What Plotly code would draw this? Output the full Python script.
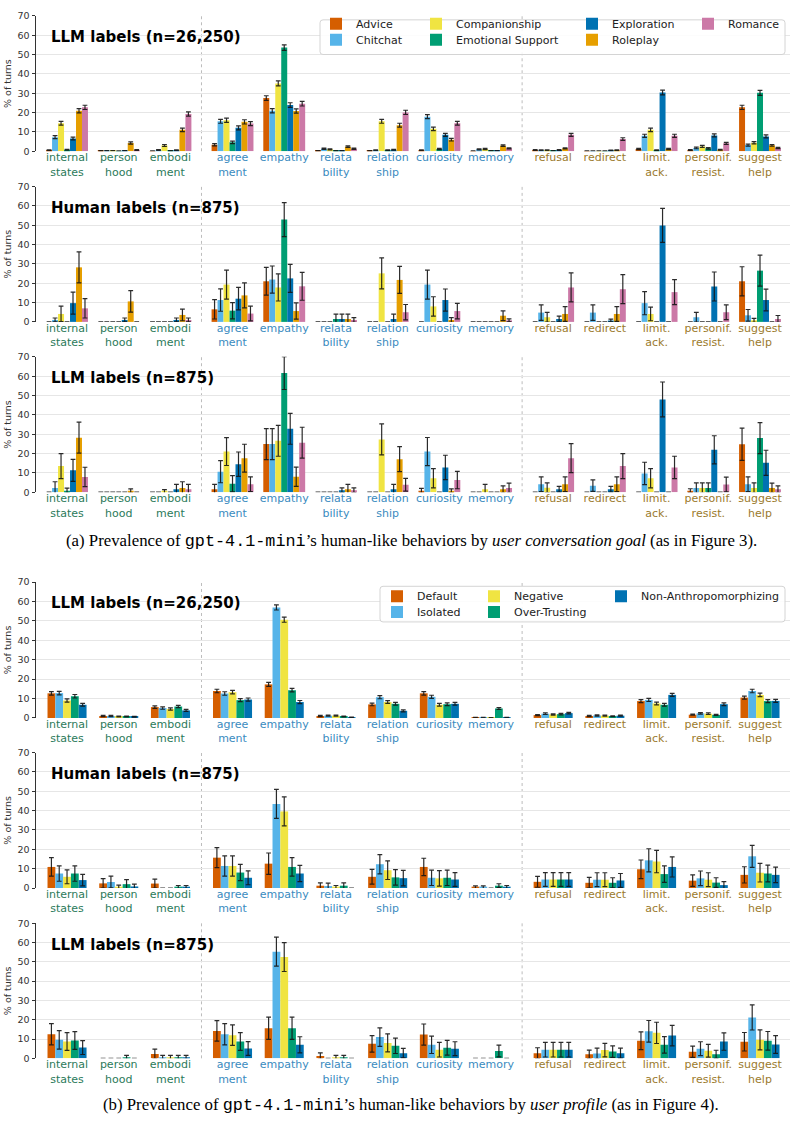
import plotly.graph_objects as go

# ---------------- data ----------------
categories = ["internal states", "personhood", "embodiment", "agreement", "empathy",
              "relatability", "relationship", "curiosity", "memory", "refusal",
              "redirect", "limit. ack.", "personif. resist.", "suggest help"]
tick_lines = [["internal", "states"], ["person", "hood"], ["embodi", "ment"],
              ["agree", "ment"], ["empathy"], ["relata", "bility"], ["relation", "ship"],
              ["curiosity"], ["memory"], ["refusal"], ["redirect"], ["limit.", "ack."],
              ["personif.", "resist."], ["suggest", "help"]]
group_sizes = [3, 6, 5]

goal_series = ["Advice", "Chitchat", "Companionship", "Emotional Support",
               "Exploration", "Roleplay", "Romance"]
profile_series = ["Default", "Isolated", "Negative", "Over-Trusting",
                  "Non-Anthropomorphizing"]

# (a) LLM labels, n=26,250
goal_llm_full_vals = [
    [0.5, 0.2, 0.1, 3.4, 27.5, 0.2, 0.2, 0.5, 0.1, 0.7, 0.1, 1.2, 0.7, 22.7],
    [7.3, 0.2, 0.6, 15.5, 21.0, 1.3, 0.5, 17.9, 1.0, 0.5, 0.1, 8.0, 1.7, 3.2],
    [14.5, 0.3, 3.0, 16.0, 35.1, 1.0, 15.5, 11.6, 1.2, 0.5, 0.1, 11.1, 2.5, 4.4],
    [0.8, 0.1, 0.2, 4.6, 53.6, 0.2, 0.5, 1.2, 0.3, 0.3, 0.1, 0.5, 1.5, 30.2],
    [6.6, 0.3, 0.5, 12.1, 23.9, 0.2, 0.8, 8.5, 0.3, 0.6, 0.4, 30.4, 8.2, 7.7],
    [21.0, 4.3, 11.1, 15.2, 20.8, 2.4, 13.5, 6.0, 2.9, 1.5, 0.5, 1.2, 0.8, 3.1],
    [22.7, 0.6, 19.3, 14.3, 24.6, 1.3, 20.1, 14.5, 1.5, 8.5, 6.3, 8.0, 4.1, 1.7],
]
goal_llm_full_errs = [
    [0.2, 0.1, 0.1, 0.6, 1.2, 0.1, 0.1, 0.2, 0.1, 0.2, 0.1, 0.3, 0.2, 1.1],
    [0.8, 0.1, 0.2, 1.0, 1.1, 0.3, 0.2, 1.0, 0.3, 0.2, 0.1, 0.8, 0.4, 0.5],
    [1.0, 0.1, 0.5, 1.1, 1.3, 0.3, 1.0, 0.9, 0.3, 0.2, 0.1, 0.9, 0.5, 0.6],
    [0.2, 0.1, 0.1, 0.6, 1.4, 0.1, 0.2, 0.3, 0.1, 0.1, 0.1, 0.2, 0.4, 1.3],
    [0.7, 0.1, 0.2, 1.0, 1.2, 0.1, 0.2, 0.8, 0.1, 0.2, 0.2, 1.2, 0.8, 0.8],
    [1.1, 0.6, 0.9, 1.1, 1.1, 0.4, 1.0, 0.7, 0.4, 0.3, 0.2, 0.3, 0.2, 0.4],
    [1.1, 0.2, 1.1, 1.0, 1.2, 0.3, 1.1, 1.0, 0.3, 0.8, 0.7, 0.8, 0.5, 0.3],
]
# (a) Human labels, n=875
goal_human_vals = [
    [0, 0, 0, 6.5, 21.0, 0, 0, 0, 0, 0, 0, 0, 0, 21.0],
    [1.0, 0, 0, 11.3, 21.9, 0, 0, 19.3, 0, 4.8, 4.8, 9.7, 2.4, 3.4],
    [4.1, 0, 0, 19.3, 17.8, 0, 25.1, 8.0, 0, 2.4, 0, 4.1, 0, 0.8],
    [0, 0, 0, 5.8, 52.9, 1.5, 0, 0, 0, 0, 0, 0, 0, 26.5],
    [9.7, 1.0, 1.0, 12.0, 22.5, 1.5, 1.5, 11.3, 0, 1.5, 0.7, 49.9, 18.3, 11.3],
    [28.2, 10.6, 3.6, 13.7, 5.6, 1.5, 21.7, 1.0, 3.2, 4.1, 4.1, 0, 0, 0],
    [7.0, 0, 1.0, 4.3, 18.4, 1.0, 5.0, 5.6, 0.8, 17.8, 16.9, 15.4, 5.0, 1.5],
]
goal_human_errs = [
    [0, 0, 0, 5.0, 7.2, 0, 0, 0, 0, 0, 0, 0, 0, 7.5],
    [1.0, 0, 0, 5.8, 7.0, 0, 0, 7.5, 0, 4.0, 4.0, 6.0, 2.5, 3.0],
    [4.0, 0, 0, 7.5, 7.0, 0, 8.0, 5.0, 0, 2.5, 0, 3.5, 0, 1.0],
    [0, 0, 0, 4.2, 8.8, 2.5, 0, 0, 0, 0, 0, 0, 0, 8.0],
    [5.7, 1.0, 1.0, 5.8, 7.2, 2.5, 2.5, 5.7, 0, 1.5, 0.7, 8.8, 7.5, 5.6],
    [8.0, 5.6, 3.0, 6.5, 4.2, 2.5, 7.0, 1.2, 2.5, 3.8, 3.8, 0, 0, 0],
    [5.0, 0, 1.0, 3.8, 7.2, 1.2, 4.0, 4.0, 0.8, 7.5, 7.5, 6.5, 3.8, 1.8],
]
# (a) LLM labels, n=875
goal_llm_sub_vals = [
    [0, 0, 0, 1.5, 24.9, 0, 0, 0.8, 0, 0, 0, 0, 0.8, 24.8],
    [2.2, 0, 0, 10.6, 24.9, 0, 0, 21.0, 0, 4.1, 3.4, 9.7, 2.2, 4.1],
    [13.5, 0, 0.3, 21.0, 26.6, 0, 27.3, 7.2, 1.5, 2.3, 0, 7.2, 2.2, 2.2],
    [0.8, 0, 0, 4.4, 61.6, 0, 0, 0, 0, 0, 0, 0, 2.2, 28.0],
    [11.3, 0, 1.5, 14.5, 32.8, 1.0, 1.5, 12.8, 0, 1.5, 1.5, 48.0, 21.9, 15.2],
    [28.2, 0.7, 2.2, 17.6, 8.0, 1.5, 17.1, 0.7, 1.5, 4.1, 4.1, 0, 0, 2.2],
    [7.9, 0, 1.5, 4.1, 25.6, 1.0, 3.9, 6.3, 2.2, 17.6, 13.5, 12.8, 4.0, 1.5],
]
goal_llm_sub_errs = [
    [0, 0, 0, 2.5, 8.0, 0, 0, 1.2, 0, 0, 0, 0, 1.0, 8.3],
    [3.2, 0, 0, 5.7, 8.0, 0, 0, 7.3, 0, 3.8, 3.0, 5.8, 2.6, 3.8],
    [6.5, 0, 1.0, 7.2, 8.0, 0, 8.0, 5.0, 2.5, 2.5, 0, 5.0, 2.6, 2.6],
    [1.3, 0, 0, 4.2, 8.5, 0, 0, 0, 0, 0, 0, 0, 2.6, 8.0],
    [5.7, 0, 2.5, 6.3, 8.0, 1.2, 2.5, 6.3, 0, 1.5, 1.5, 9.0, 7.3, 6.5],
    [8.0, 1.0, 3.2, 7.2, 5.0, 2.5, 6.5, 1.0, 1.8, 3.8, 3.8, 0, 0, 2.5],
    [5.0, 0, 2.5, 3.8, 8.0, 1.2, 3.3, 4.5, 2.5, 7.5, 6.5, 5.8, 3.8, 1.8],
]
# (b) LLM labels, n=26,250
profile_llm_full_vals = [
    [12.7, 1.0, 5.6, 13.9, 17.3, 1.0, 7.0, 12.7, 0.2, 1.5, 1.0, 8.7, 1.7, 10.5],
    [12.8, 1.0, 5.1, 12.6, 56.9, 1.2, 10.7, 10.9, 0.2, 2.2, 1.3, 9.3, 2.4, 13.9],
    [9.0, 0.8, 4.6, 13.3, 50.6, 1.2, 8.2, 6.8, 0.1, 1.8, 1.2, 7.5, 2.2, 11.9],
    [11.2, 0.8, 5.9, 9.2, 14.3, 0.8, 7.3, 7.1, 4.9, 2.0, 0.9, 6.8, 1.6, 8.7],
    [6.8, 0.6, 3.9, 9.5, 8.2, 0.3, 3.7, 7.3, 0.2, 2.5, 1.2, 11.9, 7.1, 8.8],
]
profile_llm_full_errs = [
    [0.9, 0.3, 0.6, 0.9, 1.0, 0.3, 0.7, 0.9, 0.1, 0.3, 0.3, 0.8, 0.3, 0.8],
    [0.9, 0.3, 0.6, 0.9, 1.3, 0.3, 0.8, 0.8, 0.1, 0.4, 0.3, 0.8, 0.4, 0.9],
    [0.8, 0.2, 0.6, 0.9, 1.3, 0.3, 0.7, 0.7, 0.1, 0.3, 0.3, 0.7, 0.4, 0.9],
    [0.9, 0.2, 0.6, 0.8, 0.9, 0.2, 0.7, 0.7, 0.5, 0.4, 0.2, 0.7, 0.3, 0.8],
    [0.7, 0.2, 0.5, 0.8, 0.8, 0.1, 0.5, 0.7, 0.1, 0.4, 0.3, 0.8, 0.7, 0.8],
]
# (b) Human labels, n=875
profile_human_vals = [
    [10.9, 2.4, 2.3, 15.7, 12.6, 1.2, 5.8, 10.9, 0.3, 3.2, 2.7, 9.7, 3.8, 6.8],
    [7.5, 3.1, 0, 11.4, 43.5, 1.0, 12.3, 5.3, 0.3, 4.4, 4.3, 14.3, 5.0, 16.4],
    [5.8, 0.5, 0, 11.4, 39.6, 0.5, 9.2, 5.0, 0, 4.4, 4.3, 13.7, 4.3, 7.9],
    [7.5, 2.0, 0.5, 8.0, 10.9, 1.2, 5.5, 5.3, 1.2, 4.4, 2.7, 7.2, 2.8, 7.5],
    [4.1, 0.8, 0.5, 5.3, 7.5, 0, 5.1, 4.4, 0.5, 4.4, 3.9, 10.9, 1.5, 6.8],
]
profile_human_errs = [
    [4.8, 2.5, 2.3, 5.2, 5.5, 1.5, 3.8, 4.5, 0.8, 2.8, 2.8, 4.8, 3.0, 4.2],
    [4.0, 3.0, 0, 5.2, 7.5, 1.5, 5.0, 4.0, 0.8, 3.6, 3.6, 6.0, 3.8, 5.7],
    [3.6, 1.0, 0, 5.2, 7.5, 0.8, 4.8, 4.0, 0, 3.6, 3.6, 5.8, 3.6, 4.8],
    [4.0, 2.3, 0.8, 4.2, 4.8, 1.5, 4.0, 4.0, 1.0, 3.6, 2.6, 4.3, 2.5, 4.3],
    [3.0, 1.2, 0.8, 3.6, 4.2, 0, 4.0, 3.6, 0.8, 3.6, 3.6, 5.2, 1.8, 4.0],
]
# (b) LLM labels, n=875
profile_llm_sub_vals = [
    [12.5, 0, 2.3, 14.2, 15.6, 1.2, 7.5, 12.3, 0, 2.7, 2.1, 9.1, 3.4, 8.6],
    [9.6, 0, 0.5, 12.5, 55.3, 0, 11.0, 7.0, 0, 4.5, 2.5, 14.0, 5.0, 21.2],
    [8.7, 0, 0.5, 12.0, 52.5, 0.5, 8.0, 4.5, 0, 4.5, 4.3, 13.2, 3.9, 9.6],
    [9.2, 0.5, 0.5, 8.7, 15.6, 0.5, 6.5, 5.5, 3.8, 4.5, 3.5, 7.0, 2.1, 9.1],
    [5.6, 0, 0.5, 5.1, 7.0, 0, 2.7, 5.0, 0, 4.5, 2.7, 11.8, 8.7, 7.2],
]
profile_llm_sub_errs = [
    [5.5, 0, 2.5, 5.3, 5.8, 1.6, 4.3, 5.5, 0, 2.8, 2.2, 4.6, 2.9, 4.8],
    [4.8, 0, 1.0, 5.5, 7.5, 0, 4.8, 4.5, 0, 3.8, 2.8, 5.6, 3.6, 6.5],
    [4.6, 0, 1.0, 5.3, 7.5, 1.0, 4.7, 3.8, 0, 3.8, 3.5, 5.5, 3.3, 5.2],
    [4.6, 1.0, 1.0, 4.6, 5.8, 1.0, 4.0, 3.8, 3.0, 3.8, 3.0, 4.3, 2.1, 4.8],
    [3.6, 0, 1.0, 3.6, 4.2, 0, 2.5, 3.6, 0, 3.8, 2.6, 5.3, 4.5, 4.6],
]

panel_titles = ["LLM labels (n=26,250)", "Human labels (n=875)", "LLM labels (n=875)",
                "LLM labels (n=26,250)", "Human labels (n=875)", "LLM labels (n=875)"]

# ---------------- styling ----------------
W, H = 795, 1128
goal_colors = ["#D55E00", "#56B4E9", "#F0E442", "#009E73", "#0072B2", "#E69F00", "#CC79A7"]
profile_colors = ["#D55E00", "#56B4E9", "#F0E442", "#009E73", "#0072B2"]
group_label_colors = ["#2b7a5a", "#3a8bc0", "#9b7a2c"]

# category positions with a small gap between behaviour groups
GAP = 0.2
positions, label_colors, separators = [], [], []
p = 0.0
for gi, n in enumerate(group_sizes):
    for _ in range(n):
        positions.append(p)
        label_colors.append(group_label_colors[gi])
        p += 1
    if gi < len(group_sizes) - 1:
        separators.append(p - 1 + (1 + GAP) / 2)
    p += GAP

ticktext = []
for lines, col in zip(tick_lines, label_colors):
    ticktext.append("<br>".join(f"<span style='color:{col}'>{ln}</span>" for ln in lines))

# panel pixel geometry (top of 70 line, bottom 0 line)
panel_px = [(10, 146.7), (182.3, 319), (354.3, 491), (581.7, 719), (754, 890.7), (926.3, 1062.7)]
x_dom = [36 / W, 790 / W]
x_range = [-0.6, 13.98]

panels = [
    (goal_llm_full_vals, goal_llm_full_errs, goal_series, goal_colors),
    (goal_human_vals, goal_human_errs, goal_series, goal_colors),
    (goal_llm_sub_vals, goal_llm_sub_errs, goal_series, goal_colors),
    (profile_llm_full_vals, profile_llm_full_errs, profile_series, profile_colors),
    (profile_human_vals, profile_human_errs, profile_series, profile_colors),
    (profile_llm_sub_vals, profile_llm_sub_errs, profile_series, profile_colors),
]

# legend rows / column widths
goal_legend = {"Advice": ("legend", 55), "Companionship": ("legend", 111),
               "Exploration": ("legend", 71), "Romance": ("legend", 60),
               "Chitchat": ("legend2", 55), "Emotional Support": ("legend2", 111),
               "Roleplay": ("legend2", 71)}
profile_legend = {"Default": ("legend3", 52), "Negative": ("legend3", 82),
                  "Non-Anthropomorphizing": ("legend3", 140),
                  "Isolated": ("legend4", 52), "Over-Trusting": ("legend4", 82)}

fig = go.Figure()
layout = {}
shapes = []
annotations = []

for k, (vals, errs, names, colors) in enumerate(panels):
    idx = "" if k == 0 else str(k + 1)
    xa, ya = "x" + idx, "y" + idx
    nser = len(names)
    total = 0.81 if nser == 7 else 0.755
    bw = total / nser
    legmap = goal_legend if nser == 7 else profile_legend
    show = k in (0, 3)
    for i, name in enumerate(names):
        leg, lw = legmap[name]
        fig.add_trace(go.Bar(
            x=positions, y=vals[i], name=name,
            width=bw, offset=-total / 2 + i * bw,
            marker=dict(color=colors[i], line=dict(width=0)),
            error_y=dict(type="data", array=errs[i], visible=True,
                         color="rgba(20,20,20,0.9)", thickness=1.2, width=2.4),
            xaxis=xa, yaxis=ya, showlegend=show, legend=leg, legendwidth=lw,
            hoverinfo="skip",
        ))
    top, bot = panel_px[k]
    layout["xaxis" + idx] = dict(
        domain=x_dom, range=x_range, anchor=ya, tickmode="array",
        tickvals=positions, ticktext=ticktext, showgrid=False, zeroline=False,
        showline=False, ticks="", tickfont=dict(size=11, family="DejaVu Sans"),
        ticklabelstandoff=-2, fixedrange=True)
    layout["yaxis" + idx] = dict(
        domain=[1 - bot / H, 1 - top / H], range=[0, 70], anchor=xa,
        tickvals=list(range(0, 71, 10)), showgrid=True, gridcolor="#e6e6e6",
        gridwidth=1, zeroline=False, showline=True, linecolor="#333333",
        linewidth=1, ticks="outside", ticklen=3.5, tickcolor="#333333",
        tickfont=dict(size=9.5, color="#333333", family="DejaVu Sans"),
        title=dict(text="% of turns", font=dict(size=9.5, color="#333333"), standoff=4),
        fixedrange=True)
    for sx in separators:
        shapes.append(dict(type="line", xref=xa, yref=ya + " domain", x0=sx, x1=sx,
                           y0=0, y1=1, layer="below",
                           line=dict(color="#bdbdbd", width=1, dash="dot")))
    annotations.append(dict(
        text=f"<b>{panel_titles[k]}</b>", xref="paper", yref="paper",
        x=49 / W, y=1 - (top + 21.5) / H, xanchor="left", yanchor="middle",
        showarrow=False, font=dict(size=15, family="DejaVu Sans", color="#000")))


def rounded_box(x0p, y0p, x1p, y1p, r=3):
    x0, x1 = x0p / W, x1p / W
    y0, y1 = 1 - y1p / H, 1 - y0p / H
    rx, ry = r / W, r / H
    path = (f"M{x0+rx},{y0} L{x1-rx},{y0} Q{x1},{y0} {x1},{y0+ry} "
            f"L{x1},{y1-ry} Q{x1},{y1} {x1-rx},{y1} L{x0+rx},{y1} "
            f"Q{x0},{y1} {x0},{y1-ry} L{x0},{y0+ry} Q{x0},{y0} {x0+rx},{y0} Z")
    return dict(type="path", path=path, xref="paper", yref="paper", layer="above",
                fillcolor="rgba(255,255,255,0.85)", line=dict(color="#d4d4d4", width=1))


shapes.append(rounded_box(320, 14, 785, 49))
shapes.append(rounded_box(380, 586, 785, 622))

cap_font = dict(size=16.8, family="Liberation Serif", color="#000")
mono = "<span style='font-family:Liberation Mono'>gpt-4.1-mini</span>"
annotations.append(dict(
    text=f"(a) Prevalence of {mono}\u2019s human-like behaviors by <i>user conversation goal</i> (as in Figure 3).",
    xref="paper", yref="paper", x=411 / W, y=1 - 540 / H, xanchor="center",
    yanchor="middle", showarrow=False, font=cap_font))
annotations.append(dict(
    text=f"(b) Prevalence of {mono}\u2019s human-like behaviors by <i>user profile</i> (as in Figure 4).",
    xref="paper", yref="paper", x=411 / W, y=1 - 1110 / H, xanchor="center",
    yanchor="middle", showarrow=False, font=cap_font))

leg_common = dict(orientation="h", xanchor="left", yanchor="middle",
                  bgcolor="rgba(0,0,0,0)", borderwidth=0, itemwidth=30,
                  font=dict(size=11, family="DejaVu Sans", color="#222222"))
layout["legend"] = dict(x=316 / W, y=1 - 18 / H, **leg_common)
layout["legend2"] = dict(x=316 / W, y=1 - 34 / H, **leg_common)
layout["legend3"] = dict(x=377 / W, y=1 - 596 / H, **leg_common)
layout["legend4"] = dict(x=377 / W, y=1 - 612 / H, **leg_common)

fig.update_layout(
    width=W, height=H, margin=dict(l=0, r=0, t=0, b=0),
    paper_bgcolor="white", plot_bgcolor="white", barmode="overlay",
    font=dict(family="DejaVu Sans", color="#222222"),
    shapes=shapes, annotations=annotations, **layout)

fig.write_html("out.html")
